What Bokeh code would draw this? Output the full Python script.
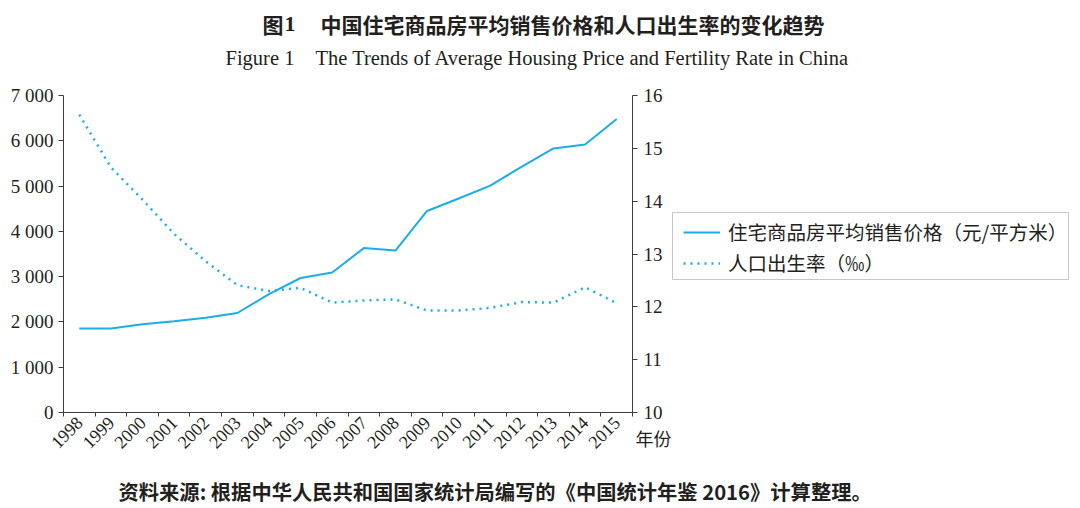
import math
from bokeh.plotting import figure
from bokeh.models import (Range1d, LinearAxis, FixedTicker, Legend, LegendItem,
                          Label, BoxAnnotation, ColumnDataSource)
from bokeh.embed import file_html
from bokeh.resources import INLINE

# ---------------- data ----------------
years = [str(y) for y in range(1998, 2016)]
house_price = [1854, 1857, 1948, 2017, 2092, 2197, 2615, 2970, 3090, 3630,
               3576, 4450, 4725, 5010, 5430, 5830, 5920, 6480]
birth_rate = [15.64, 14.64, 14.03, 13.38, 12.86, 12.41, 12.30, 12.36, 12.08, 12.12,
              12.14, 11.93, 11.93, 11.98, 12.09, 12.08, 12.37, 12.07]
left_ticks = [0, 1000, 2000, 3000, 4000, 5000, 6000, 7000]
left_tick_labels = ["0", "1 000", "2 000", "3 000", "4 000", "5 000", "6 000", "7 000"]
right_ticks = [10, 11, 12, 13, 14, 15, 16]

title_cn_fig = "图"
title_cn_num = "1"
title_cn = "中国住宅商品房平均销售价格和人口出生率的变化趋势"
title_en_fig = "Figure 1"
title_en = "The Trends of Average Housing Price and Fertility Rate in China"
legend_price = "住宅商品房平均销售价格（元/平方米）"
legend_rate = "人口出生率（‰）"
x_unit = "年份"
source_note = "资料来源: 根据中华人民共和国国家统计局编写的《中国统计年鉴 2016》计算整理。"

COLOR = "#1aaee8"
AXIS = "#3c3c3c"
TXT = "#231f20"
SERIF = "Liberation Serif"
CJK = "Noto Sans CJK SC"

# ---------------- layout (page pixels) ----------------
W, H = 1080, 508
PX_L, PX_R, PX_T, PX_B = 63, 632, 95, 412     # plotting area of the chart
n = len(years)
y_max, r_min, r_max = left_ticks[-1], right_ticks[0], right_ticks[-1]

# the frame covers the whole canvas; axes are pinned with fixed_location
xu = n / (PX_R - PX_L)
yu = y_max / (PX_B - PX_T)
ru = (r_max - r_min) / (PX_B - PX_T)
x_range = Range1d(-PX_L * xu, (W - PX_L) * xu)
y_range = Range1d(-(H - PX_B) * yu, PX_B * yu)
r_range = Range1d(r_min - (H - PX_B) * ru, r_min + PX_B * ru)

centers = [i + 0.5 for i in range(n)]
src = ColumnDataSource(dict(x=centers, price=house_price, rate=birth_rate))

p = figure(width=W, height=H, output_backend="svg", toolbar_location=None,
           x_range=x_range, y_range=y_range,
           min_border_left=0, min_border_right=0, min_border_top=0,
           min_border_bottom=0, x_axis_location=None, y_axis_location=None)
p.extra_y_ranges = {"rate": r_range}
p.outline_line_color = None
p.xgrid.visible = False
p.ygrid.visible = False
p.background_fill_color = "white"
p.border_fill_color = "white"

r_price = p.line("x", "price", source=src, line_color=COLOR, line_width=2)
r_rate = p.line("x", "rate", source=src, y_range_name="rate", line_color=COLOR,
                line_width=2.5, line_dash="2 5")

def style_axis(ax):
    ax.axis_line_color = AXIS
    ax.axis_line_width = 1
    ax.major_tick_line_color = AXIS
    ax.major_tick_out = 5
    ax.major_tick_in = 0
    ax.minor_tick_line_color = None
    ax.major_label_text_font = SERIF
    ax.major_label_text_font_size = "19px"
    ax.major_label_text_color = TXT
    ax.major_label_standoff = 5

# left axis
la = LinearAxis(ticker=FixedTicker(ticks=left_ticks), fixed_location=0,
                bounds=(0, y_max))
style_axis(la)
la.major_label_overrides = {t: s for t, s in zip(left_ticks, left_tick_labels)}
p.add_layout(la, "left")

# right axis
ra = LinearAxis(y_range_name="rate", ticker=FixedTicker(ticks=right_ticks),
                fixed_location=n, bounds=(r_min, r_max))
style_axis(ra)
ra.major_label_standoff = 6
p.add_layout(ra, "right")

# bottom axis: labels at category centres, ticks at category boundaries
xa = LinearAxis(ticker=FixedTicker(ticks=centers, minor_ticks=list(range(n + 1))),
                fixed_location=0, bounds=(0, n))
style_axis(xa)
xa.major_label_overrides = {c: y for c, y in zip(centers, years)}
xa.major_tick_line_color = None
xa.major_tick_out = 4
xa.minor_tick_line_color = AXIS
xa.minor_tick_out = 4
xa.minor_tick_in = 0
xa.major_label_orientation = math.pi / 4
xa.major_label_text_font_size = "18px"
xa.major_label_standoff = 3
p.add_layout(xa, "below")

# legend: frame box + one borderless legend per row (page pixels)
LEG_L, LEG_R, LEG_T, LEG_B = 672, 1068, 212, 279
ROW_Y = [232, 263]
ROW_H = 28            # measured text height of the legend font
p.add_layout(BoxAnnotation(left=LEG_L, right=LEG_R, top=H - LEG_T, bottom=H - LEG_B,
                           left_units="screen", right_units="screen",
                           top_units="screen", bottom_units="screen",
                           fill_color=None, fill_alpha=0,
                           line_color="#444444", line_width=1))
for renderer, text, ry in zip([r_price, r_rate], [legend_price, legend_rate], ROW_Y):
    p.add_layout(Legend(items=[LegendItem(label=text, renderers=[renderer])],
                        location=(683, H - (ry + ROW_H / 2)),
                        border_line_color=None, background_fill_alpha=0,
                        padding=0, spacing=0, margin=0,
                        glyph_width=37, glyph_height=20, label_height=20,
                        label_standoff=8,
                        label_text_font=CJK, label_text_font_size="19.5px",
                        label_text_color=TXT))

def lab(x, y, text, font, size, bold=False, align="left", baseline="middle"):
    # x, y in page pixels from the top-left corner
    p.add_layout(Label(x=x, y=H - y, x_units="screen", y_units="screen", text=text,
                       text_font=font, text_font_size=size,
                       text_font_style="bold" if bold else "normal",
                       text_align=align, text_baseline=baseline,
                       text_color=TXT))

lab(262, 23, title_cn_fig, CJK, "21px", bold=True)
lab(284, 23, title_cn_num, SERIF, "22px", bold=True)
lab(320, 23, title_cn, CJK, "21px", bold=True)
lab(225, 57, title_en_fig, SERIF, "20.5px")
lab(315, 57, title_en, SERIF, "20.5px")
lab(635, 437, x_unit, CJK, "18px")
lab(118, 490, source_note, CJK, "20.3px", bold=True)

open("out.html", "w").write(file_html(p, INLINE))
